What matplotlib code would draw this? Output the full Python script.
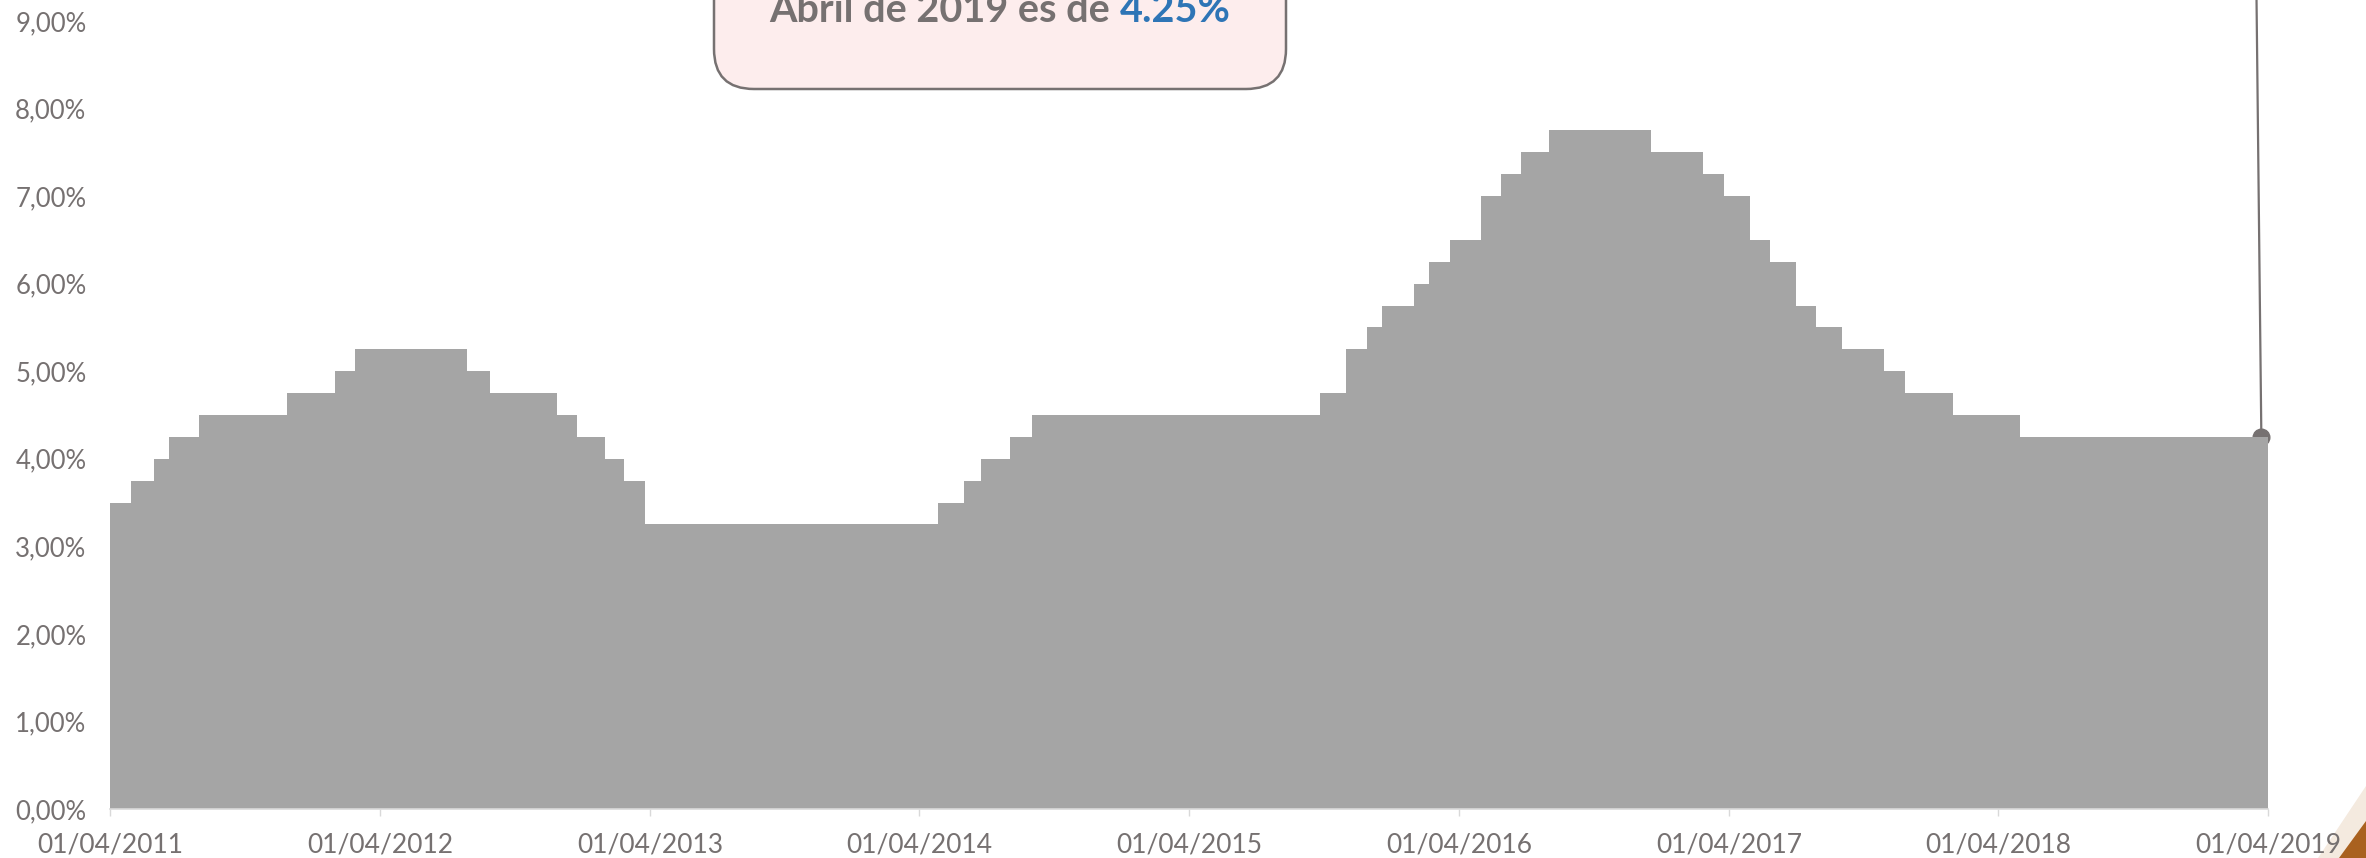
import matplotlib
matplotlib.use('Agg')
import matplotlib.pyplot as plt
from matplotlib.patches import FancyBboxPatch, Polygon
import pandas as pd

# tasa de intervencion (step changes)
change_dates = ['2011-04-01', '2011-04-30', '2011-05-31', '2011-06-20', '2011-07-30',
                '2011-11-26', '2012-01-31', '2012-02-27', '2012-07-28', '2012-08-27',
                '2012-11-26', '2012-12-24', '2013-01-30', '2013-02-25', '2013-03-25',
                '2014-04-26', '2014-05-31', '2014-06-24', '2014-08-01', '2014-08-31',
                '2015-09-26', '2015-10-31', '2015-11-28', '2015-12-19', '2016-01-30',
                '2016-02-20', '2016-03-19', '2016-04-30', '2016-05-28', '2016-06-23',
                '2016-07-31', '2016-12-17', '2017-02-25', '2017-03-25', '2017-04-29',
                '2017-05-27', '2017-07-01', '2017-07-28', '2017-09-01', '2017-10-28',
                '2017-11-25', '2018-01-29', '2018-04-30', '2019-04-01']
rates = [3.50, 3.75, 4.00, 4.25, 4.50,
         4.75, 5.00, 5.25, 5.00, 4.75,
         4.50, 4.25, 4.00, 3.75, 3.25,
         3.50, 3.75, 4.00, 4.25, 4.50,
         4.75, 5.25, 5.50, 5.75, 6.00,
         6.25, 6.50, 7.00, 7.25, 7.50,
         7.75, 7.50, 7.25, 7.00, 6.50,
         6.25, 5.75, 5.50, 5.25, 5.00,
         4.75, 4.50, 4.25, 4.25]

xtick_dates = ['2011-04-01', '2012-04-01', '2013-04-01', '2014-04-01', '2015-04-01',
               '2016-04-01', '2017-04-01', '2018-04-01', '2019-04-01']
xtick_labels = ['01/04/2011', '01/04/2012', '01/04/2013', '01/04/2014', '01/04/2015',
                '01/04/2016', '01/04/2017', '01/04/2018', '01/04/2019']
ytick_values = [0, 1, 2, 3, 4, 5, 6, 7, 8, 9]
ytick_labels = ['0,00%', '1,00%', '2,00%', '3,00%', '4,00%',
                '5,00%', '6,00%', '7,00%', '8,00%', '9,00%']

callout_text = 'Abril de 2019 es de '
callout_value = '4.25%'
marker_date = '2019-03-23'
leader_top_date = '2019-03-16'

W, H = 2366, 858
gray_txt = '#767171'
tick_font = ['Lato', 'DejaVu Sans']

fig = plt.figure(figsize=(W / 100, H / 100), dpi=100)

# background layer (slide corner decoration), behind the chart
bg = fig.add_axes([0, 0, 1, 1], zorder=0)
bg.set_xlim(0, W)
bg.set_ylim(H, 0)
bg.axis('off')
bg.add_patch(Polygon([(2318, H), (2366, 786), (2366, H)], closed=True,
                     fc='#F4EADF', ec='none'))
bg.add_patch(Polygon([(2339, H), (2366, 821), (2366, H)], closed=True,
                     fc='#A9611F', ec='none'))

ax = fig.add_axes([110 / W, 49 / H, (2268 - 110) / W, 809 / H], zorder=1)
ax.patch.set_alpha(0)

x = pd.to_datetime(change_dates)
ax.fill_between(x, rates, step='post', color='#A5A5A5', lw=0, zorder=3)

# marker + leader line to the callout
md = pd.to_datetime(marker_date)
ax.plot([md, pd.to_datetime(leader_top_date)], [rates[-1], 9.6], color=gray_txt,
        lw=1.6, clip_on=False, zorder=2)
ax.plot([md], [rates[-1]], 'o', color=gray_txt, ms=12, zorder=2, clip_on=False)

ax.set_xlim(x[0], x[-1])
ax.set_ylim(0, 9.24)

ax.set_xticks(pd.to_datetime(xtick_dates))
ax.set_xticklabels(xtick_labels)
ax.set_yticks(ytick_values)
ax.set_yticklabels(ytick_labels)

for s in ['top', 'right', 'left']:
    ax.spines[s].set_visible(False)
ax.spines['bottom'].set_color('#D9D9D9')
ax.spines['bottom'].set_linewidth(1.2)
ax.spines['bottom'].set_zorder(4)
ax.tick_params(axis='x', length=5, width=1, color='#D9D9D9', pad=12,
               labelsize=19, labelcolor=gray_txt)
ax.tick_params(axis='y', length=0, pad=17, labelsize=18.5, labelcolor=gray_txt)
for lab in ax.get_xticklabels() + ax.get_yticklabels():
    lab.set_family(tick_font)

# overlay in pixel coordinates for the callout box
ov = fig.add_axes([0, 0, 1, 1], zorder=5)
ov.set_xlim(0, W)
ov.set_ylim(H, 0)
ov.axis('off')
ov.patch.set_alpha(0)

box = FancyBboxPatch((714, -120), 572, 209, boxstyle='round,pad=0,rounding_size=40',
                     fc='#FDEDED', ec=gray_txt, lw=1.8)
ov.add_patch(box)

t1 = ov.text(0, 22, callout_text, fontsize=28.5, fontweight='bold', color=gray_txt,
             ha='left', va='baseline', family=['Lato', 'DejaVu Sans'])
t2 = ov.text(0, 22, callout_value, fontsize=28.5, fontweight='bold', color='#2E75B6',
             ha='left', va='baseline', family=['Lato', 'DejaVu Sans'])
fig.canvas.draw()
r = fig.canvas.get_renderer()
w1 = t1.get_window_extent(r).width
w2 = t2.get_window_extent(r).width
x0 = 1000 - (w1 + w2) / 2
t1.set_x(x0)
t2.set_x(x0 + w1)

fig.savefig('out.png', dpi=100)
